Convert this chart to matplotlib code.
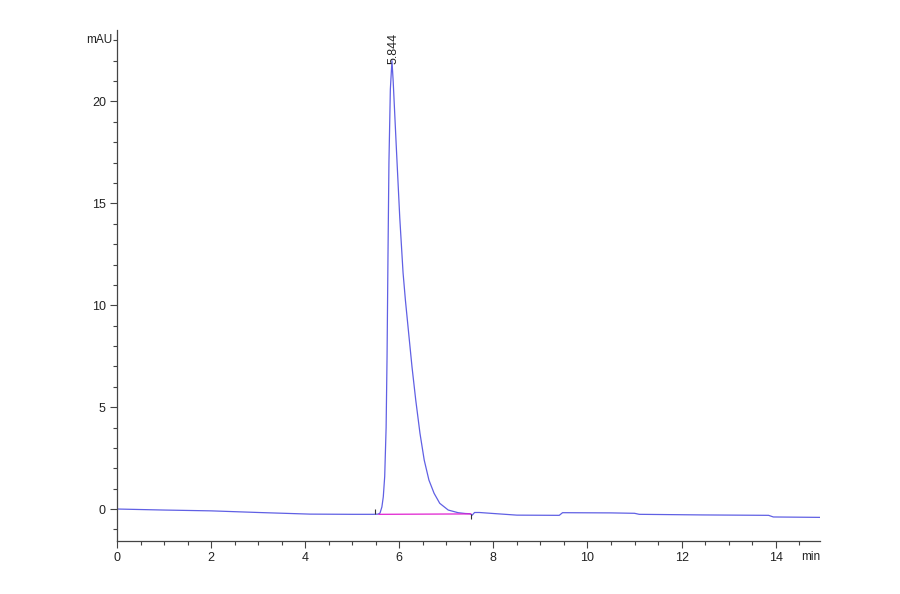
import matplotlib
matplotlib.use("Agg")
import matplotlib.pyplot as plt
from matplotlib.ticker import MultipleLocator

plt.rcParams["font.family"] = ["Liberation Sans", "DejaVu Sans"]

# trace (min, mAU)
time_min = [0.0, 1.0, 2.0, 3.0, 4.1, 5.0, 5.44, 5.55, 5.59, 5.63, 5.66, 5.69,
            5.72, 5.74, 5.76, 5.78, 5.81, 5.844, 5.87, 5.94, 6.01, 6.08, 6.13,
            6.20, 6.27, 6.35, 6.44, 6.53, 6.63, 6.74, 6.86, 7.04, 7.25, 7.4,
            7.5, 7.55, 7.6, 7.7, 8.0, 8.5, 9.4, 9.47, 10.5, 11.0, 11.1, 12.45,
            13.85, 13.95, 14.94]
signal_mau = [0.0, -0.05, -0.09, -0.17, -0.25, -0.26, -0.26, -0.25, -0.2, 0.1,
              0.6, 1.6, 4.0, 7.5, 12.5, 17.0, 20.6, 22.0, 21.0, 17.6, 14.3,
              11.6, 10.25, 8.61, 6.98, 5.34, 3.71, 2.40, 1.42, 0.77, 0.28,
              -0.05, -0.18, -0.22, -0.23, -0.3, -0.17, -0.17, -0.22, -0.3,
              -0.31, -0.18, -0.19, -0.21, -0.26, -0.29, -0.31, -0.39, -0.41]

peak_rt = 5.844
peak_height = 22.0
peak_label = "5.844"
baseline_t = [5.57, 7.52]
baseline_y = [-0.26, -0.24]

fig = plt.figure(figsize=(9, 5.94), dpi=100)
ax = fig.add_axes([0.13, 0.0892, 0.781, 0.86])

ax.plot(time_min, signal_mau, color="#6060e4", lw=0.9)
ax.plot(baseline_t, baseline_y, color="#e020d0", lw=0.9)
# integration start/end marks
ax.vlines(5.48, -0.26, 0.0, color="#333333", lw=0.8)
ax.vlines(7.52, -0.5, -0.24, color="#333333", lw=0.8)

ax.text(peak_rt + 0.03, peak_height - 0.15, peak_label, rotation=90,
        ha="center", va="bottom", fontsize=9, color="#222222")

ax.set_xlim(0, 14.94)
ax.set_ylim(-1.57, 23.5)
ax.xaxis.set_major_locator(MultipleLocator(2))
ax.xaxis.set_minor_locator(MultipleLocator(0.5))
ax.yaxis.set_major_locator(MultipleLocator(5))
ax.yaxis.set_minor_locator(MultipleLocator(1))

for side in ["top", "right"]:
    ax.spines[side].set_visible(False)
for side in ["left", "bottom"]:
    ax.spines[side].set_color("#444444")
    ax.spines[side].set_linewidth(0.9)

ax.tick_params(which="major", length=5, width=0.8, color="#444444",
               labelsize=9, labelcolor="#222222", pad=3)
ax.tick_params(which="minor", length=3, width=0.8, color="#444444")

ax.text(-0.1, 23.0, "mAU", ha="right", va="center", fontsize=8.5,
        color="#222222")
ax.text(14.94, -2.35, "min", ha="right", va="center", fontsize=8.5,
        color="#222222")

fig.savefig("out.png", dpi=100)
